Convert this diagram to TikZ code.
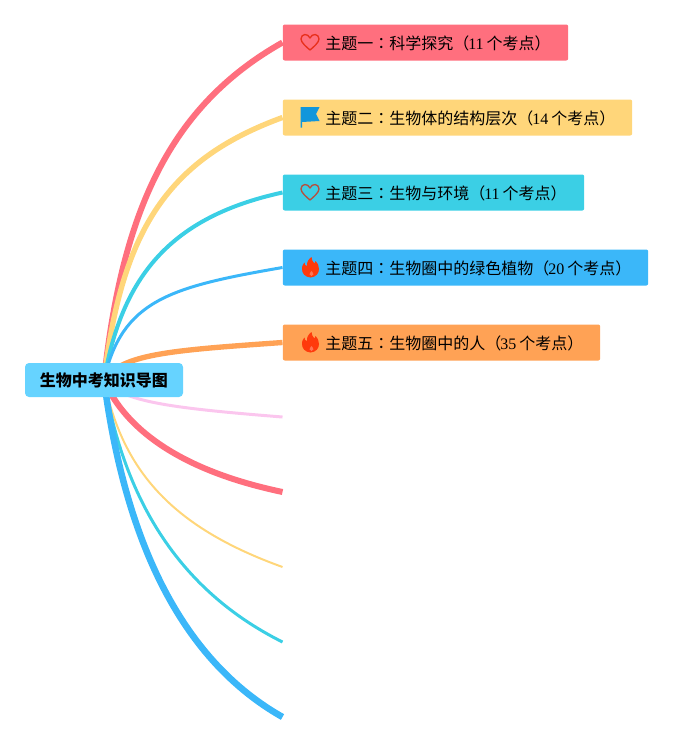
\documentclass[tikz,border=0pt]{standalone}
\usepackage{fontspec}
\setmainfont{Liberation Serif}
\newfontfamily\cjk{Noto Sans CJK SC}
\newfontfamily\cjktc{Noto Sans CJK TC}
\usetikzlibrary{backgrounds}
\definecolor{rootblue}{HTML}{66D3FF}
\definecolor{mapred}{HTML}{FF6F7E}
\definecolor{mapyellow}{HTML}{FFD67A}
\definecolor{mapcyan}{HTML}{3BCFE5}
\definecolor{mapblue}{HTML}{3BB7F9}
\definecolor{maporange}{HTML}{FFA255}
\definecolor{mappink}{HTML}{FBC6EE}
\definecolor{iconred}{HTML}{E8301C}
\definecolor{iconbrown}{HTML}{B5503F}
\definecolor{iconflag}{HTML}{1296DB}
\definecolor{iconfire}{HTML}{FF3A0C}
\newcommand{\topiclabel}[3]{\hspace*{31.9pt}\raisebox{-2pt}[9pt][3pt]{{\cjk #1}{\cjktc ：}{\cjk #2（}\kern-0.75pt#3\kern 2.25pt{\cjk 个考点）}}}
\tikzset{
  topicbox/.style={anchor=west,inner sep=0pt,minimum height=27pt,text width=#1,align=left,
    rounded corners=1.5pt,font=\fontsize{12}{14}\selectfont},
  link/.style={line cap=butt,fill=none},
  heart/.pic={\draw[#1,line width=1pt,line join=round] (0,7.5)
    .. controls (-3,5) and (-9,0) .. (-9,-3.5) .. controls (-9,-9) and (-2,-9.5) .. (0,-4.5)
    .. controls (2,-9.5) and (9,-9) .. (9,-3.5) .. controls (9,0) and (3,5) .. cycle;},
  flag/.pic={\fill[iconflag] (-9.5,-10.5) -- (9.5,-10.5) -- (6,-3.5) -- (9.5,3.5) -- (-8,4.5)
    -- (-8,10) -- (-9.5,10) -- cycle;},
  fire/.pic={\fill[iconfire] (0,10) .. controls (-5.5,9.5) and (-8.5,6) .. (-8.5,1.5)
    .. controls (-8.5,-2) and (-7,-4) .. (-6,-5) .. controls (-6,-3) and (-5,-1.5) .. (-3.5,-1.5)
    .. controls (-4,-5) and (-2,-8.5) .. (1,-10.5) .. controls (1,-7) and (2.5,-6) .. (4,-4)
    .. controls (4.8,-4.5) and (5,-5.5) .. (5,-6.5) .. controls (7.5,-4) and (8.5,-1) .. (8.5,1.5)
    .. controls (8.5,6) and (5.5,9.5) .. (0,10) -- cycle;
    \fill[iconfire!70!white] (1,8.5) .. controls (-1.5,8.5) and (-1.5,6) .. (1,3.5)
    .. controls (3.5,6) and (3.5,8.5) .. (1,8.5) -- cycle;}
}
\begin{document}
\begin{tikzpicture}[x=0.75pt,y=-0.75pt]
  \useasboundingbox (0,0) rectangle (693,743);
  \node[topicbox=214.1pt,fill=mapred] (topic1) at (282.5,42.5) {\topiclabel{主题一}{科学探究}{11}};
  \node[topicbox=262.1pt,fill=mapyellow] (topic2) at (282.5,117.5) {\topiclabel{主题二}{生物体的结构层次}{14}};
  \node[topicbox=226.1pt,fill=mapcyan] (topic3) at (282.5,192.5) {\topiclabel{主题三}{生物与环境}{11}};
  \node[topicbox=274.1pt,fill=mapblue] (topic4) at (282.5,267.5) {\topiclabel{主题四}{生物圈中的绿色植物}{20}};
  \node[topicbox=238.1pt,fill=maporange] (topic5) at (282.5,342.5) {\topiclabel{主题五}{生物圈中的人}{35}};
  \node[fill=rootblue,rounded corners=3pt,minimum width=118.5pt,minimum height=25.5pt,inner sep=0pt,
    font=\fontsize{12}{14}\selectfont\cjk\bfseries] (root) at (104,380) {\raisebox{-2pt}[9pt][3pt]{生物中考知识导图}};
  \coordinate (end6) at (282.5,417);
  \coordinate (end7) at (282.5,492);
  \coordinate (end8) at (282.5,567);
  \coordinate (end9) at (282.5,642);
  \coordinate (end10) at (282.5,717);
  \pic at (310,42.5) {heart=iconred};
  \pic at (310,117.5) {flag};
  \pic at (310,192.5) {heart=iconbrown};
  \pic at (310.5,267.5) {fire};
  \pic at (310.5,342.5) {fire};
  \begin{scope}[on background layer]
    \draw[link,mapred,line width=4.5pt] (root.center) .. controls (122,211) and (170,106) .. (topic1.west);
    \draw[link,mapyellow,line width=4pt] (root.center) .. controls (122,227) and (170,158.6) .. (topic2.west);
    \draw[link,mapcyan,line width=3pt] (root.center) .. controls (122,276.7) and (170,217) .. (topic3.west);
    \draw[link,mapblue,line width=2.25pt] (root.center) .. controls (122,300) and (170,287) .. (topic4.west);
    \draw[link,maporange,line width=4pt] (root.center) .. controls (122,354) and (170,350.4) .. (topic5.west);
    \draw[link,mappink,line width=2.25pt] (root.center) .. controls (122,401.7) and (170,408) .. (end6);
    \draw[link,mapred,line width=4.5pt] (root.center) .. controls (122,422) and (170,468.4) .. (end7);
    \draw[link,mapyellow,line width=1.5pt] (root.center) .. controls (122,469) and (170,526.5) .. (end8);
    \draw[link,mapcyan,line width=2.25pt] (root.center) .. controls (122,487) and (170,585.8) .. (end9);
    \draw[link,mapblue,line width=4.9pt] (root.center) .. controls (122,518.5) and (170,653.4) .. (end10);
  \end{scope}
\end{tikzpicture}
\end{document}
